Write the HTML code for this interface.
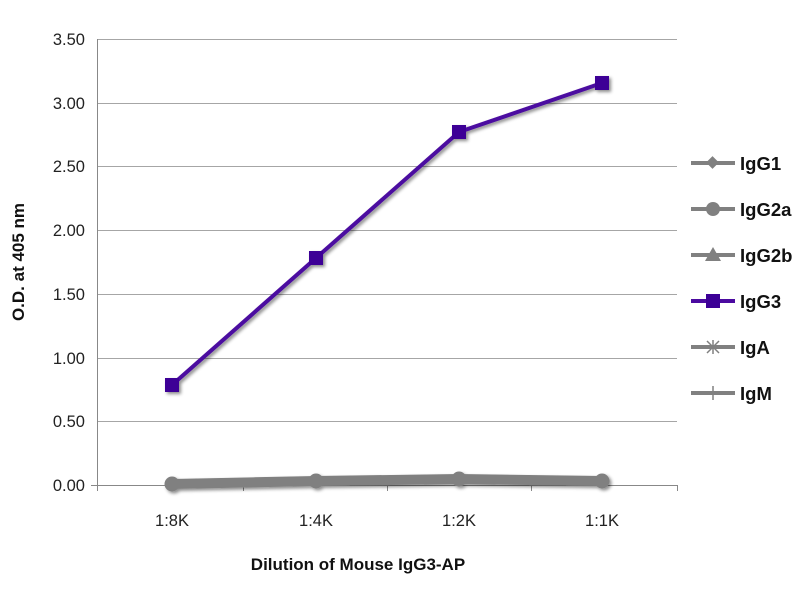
<!DOCTYPE html>
<html><head><meta charset="utf-8"><style>body{margin:0;background:#fff}svg{display:block}text{font-family:"Liberation Sans",sans-serif}</style></head><body>
<svg width="800" height="600" xmlns="http://www.w3.org/2000/svg">
<defs><filter id="sh" x="-20%" y="-20%" width="140%" height="140%"><feDropShadow dx="2" dy="2" stdDeviation="1.5" flood-color="#000" flood-opacity="0.45"/></filter></defs>
<g stroke="#a6a6a6" stroke-width="1">
<line x1="97" y1="39.5" x2="677" y2="39.5"/><line x1="97" y1="103.5" x2="677" y2="103.5"/><line x1="97" y1="166.5" x2="677" y2="166.5"/><line x1="97" y1="230.5" x2="677" y2="230.5"/><line x1="97" y1="294.5" x2="677" y2="294.5"/><line x1="97" y1="358.5" x2="677" y2="358.5"/><line x1="97" y1="421.5" x2="677" y2="421.5"/>
</g>
<g stroke="#888" stroke-width="1">
<line x1="97.5" y1="39" x2="97.5" y2="491"/><line x1="91" y1="485.5" x2="677" y2="485.5"/>
<line x1="243.5" y1="485" x2="243.5" y2="491"/><line x1="387.5" y1="485" x2="387.5" y2="491"/><line x1="531.5" y1="485" x2="531.5" y2="491"/><line x1="677.5" y1="485" x2="677.5" y2="491"/>
</g>
<g font-size="16.5" fill="#222" text-anchor="end">
<text x="85" y="45">3.50</text><text x="85" y="109">3.00</text><text x="85" y="172">2.50</text><text x="85" y="236">2.00</text><text x="85" y="300">1.50</text><text x="85" y="364">1.00</text><text x="85" y="427">0.50</text><text x="85" y="491">0.00</text>
</g>
<g font-size="16.5" fill="#222" text-anchor="middle">
<text x="172" y="526">1:8K</text><text x="316" y="526">1:4K</text><text x="459" y="526">1:2K</text><text x="602" y="526">1:1K</text>
</g>
<text x="358" y="570" font-size="17" font-weight="bold" text-anchor="middle" fill="#111">Dilution of Mouse IgG3-AP</text>
<text transform="translate(24,262) rotate(-90)" font-size="17" font-weight="bold" text-anchor="middle" fill="#111">O.D. at 405 nm</text>
<g filter="url(#sh)">
<polyline points="172,484 316,481 459,479 602,481" fill="none" stroke="#808080" stroke-width="10" stroke-linejoin="round"/>
<g fill="#808080"><circle cx="172" cy="484" r="7.5"/><circle cx="316" cy="481" r="7.5"/><circle cx="459" cy="479" r="7.5"/><circle cx="602" cy="481" r="7.5"/></g>
<polyline points="172,385 316,258 459,132 602,83" fill="none" stroke="#4b0aa0" stroke-width="4"/>
<g fill="#3c0096"><rect x="165" y="378" width="14" height="14"/><rect x="309" y="251" width="14" height="14"/><rect x="452" y="125" width="14" height="14"/><rect x="595" y="76" width="14" height="14"/></g>
</g>
<g font-size="18.5" font-weight="bold" fill="#111">
<line x1="691" y1="163" x2="735" y2="163" stroke="#808080" stroke-width="4"/><rect x="708" y="158" width="9" height="9" fill="#808080" transform="rotate(45 712.5 162.5)"/><text x="740" y="170">IgG1</text>
<line x1="691" y1="209" x2="735" y2="209" stroke="#808080" stroke-width="4"/><circle cx="713" cy="209" r="7" fill="#808080"/><text x="740" y="216">IgG2a</text>
<line x1="691" y1="255" x2="735" y2="255" stroke="#808080" stroke-width="4"/><polygon points="713,247 721,261 705,261" fill="#808080"/><text x="740" y="262">IgG2b</text>
<line x1="691" y1="301" x2="735" y2="301" stroke="#4b0aa0" stroke-width="4"/><rect x="706" y="294" width="14" height="14" fill="#3c0096"/><text x="740" y="308">IgG3</text>
<line x1="691" y1="347" x2="735" y2="347" stroke="#808080" stroke-width="4"/><path d="M707 341L719 353M719 341L707 353M713 340V354" stroke="#808080" stroke-width="1.5"/><text x="740" y="354">IgA</text>
<line x1="691" y1="393" x2="735" y2="393" stroke="#808080" stroke-width="4"/><line x1="713" y1="386" x2="713" y2="400" stroke="#808080" stroke-width="1.5"/><text x="740" y="400">IgM</text>
</g>
</svg>
</body></html>
